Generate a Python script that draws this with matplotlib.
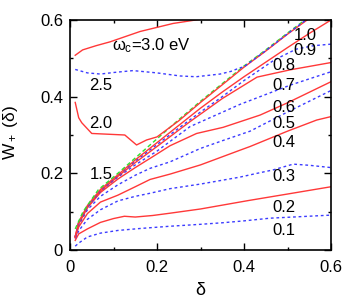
#%%
import numpy as np
import matplotlib
matplotlib.use("Agg")
import matplotlib.pyplot as plt

plt.rcParams['font.family'] = ['Liberation Sans Narrow', 'Liberation Sans', 'DejaVu Sans']
plt.rcParams['mathtext.fontset'] = 'custom'
plt.rcParams['mathtext.rm'] = 'Liberation Sans'
plt.rcParams['mathtext.it'] = 'Liberation Sans'

# %%
# curvas W+(delta) para cada omega_c
x01 = [0.012, 0.02, 0.04, 0.07, 0.11, 0.16, 0.23, 0.3, 0.35, 0.4, 0.46, 0.53, 0.6]
y01 = [0.01, 0.018, 0.034, 0.044, 0.051, 0.056, 0.062, 0.067, 0.071, 0.076, 0.083, 0.087, 0.091]

x02 = [0.012, 0.02, 0.04, 0.07, 0.1, 0.125, 0.15, 0.19, 0.23, 0.3, 0.41, 0.5, 0.6]
y02 = [0.025, 0.042, 0.055, 0.072, 0.082, 0.088, 0.086, 0.09, 0.096, 0.107, 0.129, 0.146, 0.165]

x03 = [0.012, 0.02, 0.04, 0.07, 0.11, 0.15, 0.184, 0.23, 0.3, 0.39, 0.43, 0.467, 0.513, 0.55, 0.6]
y03 = [0.03, 0.05, 0.08, 0.105, 0.128, 0.14, 0.148, 0.16, 0.172, 0.19, 0.2, 0.209, 0.224, 0.221, 0.215]

x04 = [0.012, 0.02, 0.04, 0.07, 0.11, 0.15, 0.184, 0.23, 0.3, 0.39, 0.414, 0.5, 0.567, 0.6]
y04 = [0.032, 0.06, 0.095, 0.125, 0.143, 0.165, 0.184, 0.198, 0.222, 0.26, 0.27, 0.31, 0.339, 0.348]

x05 = [0.012, 0.02, 0.04, 0.07, 0.11, 0.15, 0.184, 0.23, 0.3, 0.35, 0.414, 0.5, 0.6]
y05 = [0.033, 0.065, 0.105, 0.14, 0.17, 0.195, 0.213, 0.23, 0.265, 0.285, 0.31, 0.36, 0.416]

x06 = [0.012, 0.02, 0.04, 0.07, 0.11, 0.15, 0.184, 0.23, 0.291, 0.352, 0.437, 0.5, 0.6]
y06 = [0.034, 0.068, 0.11, 0.15, 0.185, 0.215, 0.239, 0.272, 0.304, 0.32, 0.352, 0.384, 0.439]

x07 = [0.012, 0.02, 0.04, 0.07, 0.11, 0.15, 0.2, 0.276, 0.391, 0.506, 0.6]
y07 = [0.034, 0.07, 0.112, 0.153, 0.19, 0.222, 0.258, 0.322, 0.38, 0.43, 0.465]

x08 = [0.012, 0.02, 0.04, 0.07, 0.11, 0.15, 0.2, 0.276, 0.35, 0.43, 0.506, 0.6]
y08 = [0.034, 0.071, 0.113, 0.154, 0.192, 0.228, 0.27, 0.335, 0.395, 0.451, 0.47, 0.489]

x09 = [0.012, 0.02, 0.04, 0.07, 0.11, 0.15, 0.2, 0.25, 0.3, 0.35, 0.4, 0.47, 0.52, 0.56, 0.6]
y09 = [0.035, 0.072, 0.114, 0.156, 0.194, 0.232, 0.275, 0.318, 0.36, 0.4, 0.442, 0.496, 0.524, 0.533, 0.537]

x10 = [0.012, 0.02, 0.04, 0.07, 0.11, 0.15, 0.2, 0.25, 0.3, 0.35, 0.4, 0.45, 0.5, 0.55, 0.6]
y10 = [0.035, 0.073, 0.116, 0.158, 0.196, 0.235, 0.28, 0.325, 0.37, 0.412, 0.452, 0.49, 0.528, 0.565, 0.6]

x15 = [0.012, 0.02, 0.03, 0.065, 0.11, 0.15, 0.2, 0.25, 0.3, 0.35, 0.4, 0.45, 0.5, 0.54]
y15 = [0.055, 0.075, 0.1, 0.157, 0.2, 0.24, 0.29, 0.34, 0.388, 0.434, 0.48, 0.522, 0.566, 0.6]

x20 = [0.012, 0.02, 0.027, 0.05, 0.126, 0.153, 0.176, 0.2, 0.25, 0.3, 0.35, 0.4, 0.45, 0.5, 0.545]
y20 = [0.385, 0.345, 0.332, 0.304, 0.3, 0.274, 0.287, 0.295, 0.337, 0.385, 0.431, 0.477, 0.519, 0.563, 0.6]

x25 = [0.012, 0.04, 0.07, 0.1, 0.145, 0.2, 0.253, 0.29, 0.345, 0.37, 0.39, 0.4, 0.45, 0.5, 0.54]
y25 = [0.471, 0.462, 0.459, 0.463, 0.468, 0.462, 0.454, 0.452, 0.459, 0.466, 0.475, 0.478, 0.52, 0.564, 0.598]

x30 = [0.012, 0.029, 0.06, 0.092, 0.161, 0.237, 0.3]
y30 = [0.508, 0.522, 0.533, 0.543, 0.57, 0.591, 0.602]

# etiquetas de las curvas (texto, x, y)
etiquetas = ["2.5", "2.0", "1.5", "1.0", "0.9", "0.8", "0.7", "0.6", "0.5", "0.4", "0.3", "0.2", "0.1"]
etq_x = [0.071, 0.071, 0.071, 0.541, 0.541, 0.491, 0.491, 0.491, 0.491, 0.491, 0.491, 0.491, 0.491]
etq_y = [0.428, 0.329, 0.198, 0.559, 0.521, 0.48, 0.43, 0.372, 0.33, 0.28, 0.191, 0.111, 0.05]

# %%
rojo = "#ff3838"
azul = "#3c3cff"
verde = "#30dd30"
punteado = (0, (2, 2))

fig = plt.figure(figsize=(3.54, 3.0), dpi=100)
ax = fig.add_axes([70/354, 50/300, 261/354, 230/300])

ax.plot(x01, y01, color=azul, lw=1.0, ls=punteado)
ax.plot(x02, y02, color=rojo, lw=1.0)
ax.plot(x03, y03, color=azul, lw=1.0, ls=punteado)
ax.plot(x04, y04, color=rojo, lw=1.0)
ax.plot(x05, y05, color=azul, lw=1.0, ls=punteado)
ax.plot(x06, y06, color=rojo, lw=1.0)
ax.plot(x07, y07, color=azul, lw=1.0, ls=punteado)
ax.plot(x08, y08, color=rojo, lw=1.0)
ax.plot(x09, y09, color=azul, lw=1.0, ls=punteado)
ax.plot(x10, y10, color=rojo, lw=1.0)
ax.plot(x15, y15, color=verde, lw=1.0, ls=(0, (3, 2)))
ax.plot(x20, y20, color=rojo, lw=1.0)
ax.plot(x25, y25, color=azul, lw=1.0, ls=punteado)
ax.plot(x30, y30, color=rojo, lw=1.0)

for t, xt, yt in zip(etiquetas, etq_x, etq_y):
    ax.text(xt, yt, t, fontsize=12, ha="center", va="center")
ax.text(0.096, 0.522, r"$\omega_c$=3.0 eV", fontsize=12, ha="left", va="baseline")

ax.set_xlim(0, 0.6)
ax.set_ylim(0, 0.6)
ax.set_xticks([0, 0.2, 0.4, 0.6])
ax.set_xticklabels(["0", "0.2", "0.4", "0.6"])
ax.set_yticks([0, 0.2, 0.4, 0.6])
ax.set_yticklabels(["0", "0.2", "0.4", "0.6"])
ax.set_xticks([0.1, 0.3, 0.5], minor=True)
ax.set_yticks([0.1, 0.3, 0.5], minor=True)
ax.tick_params(which="both", direction="in", top=True, right=True, labelsize=12, width=1.0)
ax.tick_params(which="major", length=5, pad=5)
ax.tick_params(axis="x", which="major", pad=7)
ax.tick_params(which="minor", length=2.5)
for s in ax.spines.values():
    s.set_linewidth(1.2)

ax.set_xlabel("δ", fontsize=13, labelpad=5)
ax.set_ylabel(r"W$_+$ (δ)", fontsize=12.5)
ax.yaxis.set_label_coords(-0.19, 0.51)

plt.savefig("out.png", dpi=100)
